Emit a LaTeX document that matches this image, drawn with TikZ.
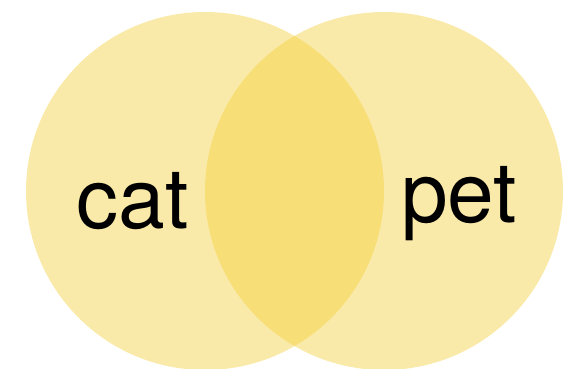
\documentclass[tikz,border=0pt]{standalone}
\usepackage{fontspec}
\setsansfont{TeX Gyre Heros}
\usetikzlibrary{positioning}
\definecolor{vennyellow}{RGB}{243,204,48}
\tikzset{vset/.style={circle,fill=vennyellow,fill opacity=0.41,draw=none,minimum size=358pt,inner sep=0pt}  }
\tikzset{vlabel/.style={anchor=base,text=black,font=\sffamily\fontsize{84}{84}\selectfont}  }

\begin{document}
\begin{tikzpicture}[x=1pt,y=1pt]
		\useasboundingbox (0,0) rectangle (575,368);
		\node[vset] (catset) at (205,177) {};
		\node[vset] (petset) at (384,177) {};

		\node[vlabel] (cat) at (133,140) {cat};
		\node[vlabel] (pet) at (459,146) {pet};
	\end{tikzpicture}
\end{document}
